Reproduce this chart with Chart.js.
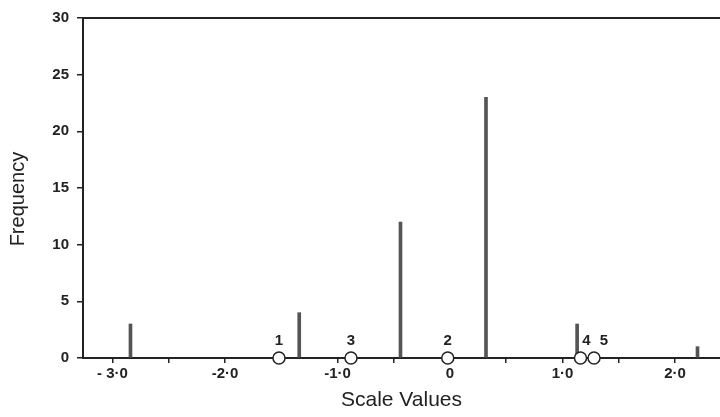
<!DOCTYPE html>
<html>
<head>
<meta charset="utf-8">
<script src="https://cdn.jsdelivr.net/npm/chart.js@4"></script>
<style>
  html, body { margin: 0; padding: 0; background: #fff; }
  #wrap { width: 720px; height: 417px; }
</style>
</head>
<body>
<div id="wrap"><canvas id="chart" width="720" height="417"></canvas></div>
<script>
// frequencies of the scale values
const barValues = [-2.84, -1.34, -0.44, 0.32, 1.13, 2.2];
const barFreq = [3, 4, 12, 23, 3, 1];

// numbered stimulus positions on the scale
const markValues = [-1.52, -0.02, -0.88, 1.16, 1.28];
const markLabels = ['1', '2', '3', '4', '5'];
const markShift = [0, 0, 0, 6, 10];

const xTickValues = [-3, -2.5, -2, -1.5, -1, -0.5, 0, 0.5, 1, 1.5, 2];
const xTickLabels = ['- 3·0', '', '-2·0', '', '-1·0', '', '0', '', '1·0', '', '2·0'];
const yTickValues = [0, 5, 10, 15, 20, 25, 30];

const ink = '#222';
const family = '"Liberation Sans", Arial, sans-serif';

const markLabelPlugin = {
    id: 'markLabels',
    afterDatasetsDraw(chart) {
        const ctx = chart.ctx;
        const meta = chart.getDatasetMeta(1);
        ctx.save();
        ctx.font = 'bold 15px ' + family;
        ctx.fillStyle = ink;
        ctx.textAlign = 'center';
        ctx.textBaseline = 'middle';
        meta.data.forEach((pt, i) => {
            ctx.fillText(markLabels[i], pt.x + markShift[i], pt.y - 17);
        });
        ctx.restore();
    }
};

const topLinePlugin = {
    id: 'topLine',
    afterDraw(chart) {
        const a = chart.chartArea;
        const ctx = chart.ctx;
        ctx.save();
        ctx.strokeStyle = ink;
        ctx.lineWidth = 2;
        ctx.beginPath();
        ctx.moveTo(a.left, a.top);
        ctx.lineTo(chart.width, a.top);
        ctx.stroke();
        ctx.restore();
    }
};

new Chart(document.getElementById('chart'), {
    data: {
        datasets: [{
            type: 'bar',
            data: barValues.map((v, i) => ({ x: v, y: barFreq[i] })),
            backgroundColor: '#555',
            barThickness: 3,
            order: 2
        }, {
            type: 'scatter',
            data: markValues.map(v => ({ x: v, y: 0 })),
            pointStyle: 'circle',
            pointRadius: 6,
            pointBackgroundColor: '#fff',
            pointBorderColor: ink,
            pointBorderWidth: 1.5,
            clip: false,
            order: 1
        }]
    },
    plugins: [markLabelPlugin, topLinePlugin],
    options: {
        responsive: false,
        animation: false,
        layout: { autoPadding: false, padding: { top: 18, right: 0, left: 0, bottom: 0 } },
        plugins: {
            legend: { display: false },
            tooltip: { enabled: false }
        },
        scales: {
            x: {
                type: 'linear',
                min: -3.262,
                max: 2.4,
                offset: false,
                afterBuildTicks: s => { s.ticks = xTickValues.map(v => ({ value: v })); },
                afterFit: s => { s.height = 59; s.paddingLeft = 0; s.paddingRight = 0; },
                ticks: {
                    autoSkip: false,
                    maxRotation: 0,
                    padding: 2,
                    color: ink,
                    font: { family: family, size: 15, weight: 'bold' },
                    callback: (v, i) => xTickLabels[i]
                },
                grid: { offset: false, drawOnChartArea: false, tickLength: 5, color: ink, lineWidth: 1.5 },
                border: { color: ink, width: 2 },
                title: {
                    display: true,
                    text: 'Scale Values',
                    color: ink,
                    padding: { top: 14 },
                    font: { family: family, size: 21 }
                }
            },
            y: {
                min: 0,
                max: 30,
                afterBuildTicks: s => { s.ticks = yTickValues.map(v => ({ value: v })); },
                afterFit: s => { s.width = 83; },
                ticks: {
                    padding: 8,
                    color: ink,
                    font: { family: family, size: 15, weight: 'bold' }
                },
                grid: { drawOnChartArea: false, tickLength: 6, color: ink, lineWidth: 1.5 },
                border: { color: ink, width: 2 },
                title: {
                    display: true,
                    text: 'Frequency    ',
                    color: ink,
                    padding: { top: 6, bottom: 0 },
                    font: { family: family, size: 20 }
                }
            }
        }
    }
});
</script>
</body>
</html>
